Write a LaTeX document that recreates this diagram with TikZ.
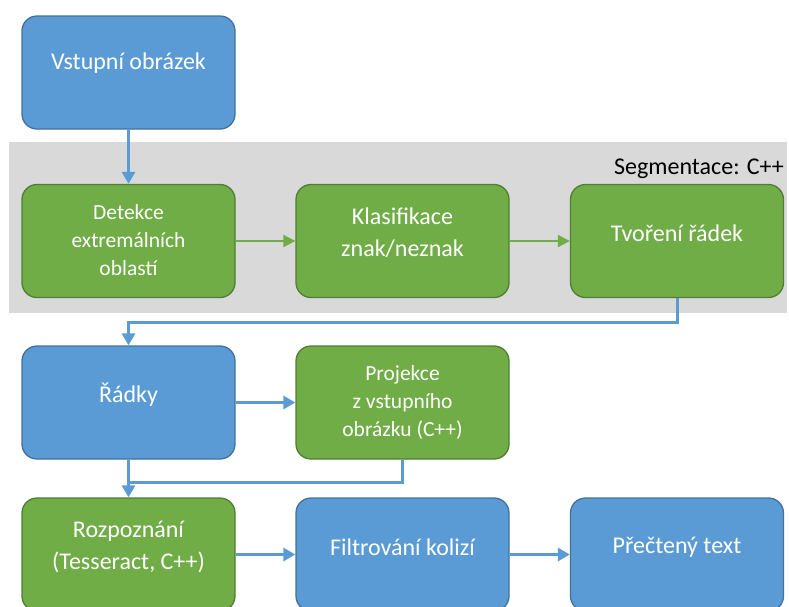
\documentclass[tikz,border=0pt]{standalone}
\usepackage{fontspec}
\setmainfont{Carlito}
\usetikzlibrary{arrows.meta,calc}
\definecolor{bfill}{HTML}{5B9BD5}
\definecolor{bdraw}{HTML}{41719C}
\definecolor{gfill}{HTML}{70AD47}
\definecolor{gdraw}{HTML}{507E32}
\definecolor{graybg}{HTML}{D9D9D9}
\begin{document}
\begin{tikzpicture}[x=1pt,y=-1pt,
  box/.style={rounded corners=15pt, minimum width=213pt, minimum height=113pt, line width=1.3pt, inner sep=0pt},
  bluebox/.style={box, fill=bfill, draw=bdraw},
  greenbox/.style={box, fill=gfill, draw=gdraw},
  txt/.style={text=white, align=center, font=\fontsize{24}{31.5}\selectfont, inner sep=0pt},
  stxt/.style={text=white, align=center, font=\fontsize{21.5}{28.3}\selectfont, inner sep=0pt},
  bl/.style={draw=bfill, line width=3pt},
  blarr/.style={bl, -{Triangle[length=12pt,width=13pt]}},
  grarr/.style={draw=gfill, line width=2pt, -{Triangle[length=12pt,width=12pt]}},
]
\useasboundingbox (0,0) rectangle (789,606);
\clip (0,0) rectangle (789,606);

% segmentation band
\node[fill=graybg, minimum width=778pt, minimum height=171pt, inner sep=0pt] (seg) at (398,227.5) {};
\node[anchor=base east, font=\fontsize{24}{28}\selectfont, inner sep=0pt] (segl) at (784,174) {Segmentace: C++};

% boxes
\node[bluebox]  (inp) at (128.5,72.5) {};
\node[greenbox] (det) at (128.5,241) {};
\node[greenbox] (kla) at (402.5,241) {};
\node[greenbox] (tvo) at (677,241) {};
\node[bluebox]  (rad) at (128.5,402.5) {};
\node[greenbox] (pro) at (402.5,402.5) {};
\node[greenbox] (roz) at (128.5,554.5) {};
\node[bluebox]  (fil) at (402.5,554.5) {};
\node[bluebox]  (pre) at (677,554.5) {};

% texts
\node[txt]  (tinp) at ([yshift=9pt]inp.center) {Vstupní obrázek};
\node[stxt] (tdet) at ([yshift=1pt]det.center) {Detekce\\extremálních\\oblastí};
\node[txt]  (tkla) at ([yshift=8.5pt]kla.center) {Klasifikace\\znak/neznak};
\node[txt]  (ttvo) at ([yshift=8pt]tvo.center) {Tvoření řádek};
\node[txt]  (trad) at ([yshift=7.5pt]rad.center) {Řádky};
\node[stxt] (tpro) at ([yshift=0pt]pro.center) {Projekce\\z vstupního\\obrázku (C++)};
\node[txt]  (troz) at ([yshift=7.5pt]roz.center) {Rozpoznání\\(Tesseract, C++)};
\node[txt]  (tfil) at ([yshift=7.5pt]fil.center) {Filtrování kolizí};
\node[txt]  (tpre) at ([yshift=7.5pt]pre.center) {Přečtený text};

% connectors
\draw[blarr] (inp.south) -- (det.north);
\draw[grarr] (det.east) -- (kla.west);
\draw[grarr] (kla.east) -- (tvo.west);
\coordinate (t1) at ([yshift=-24pt]tvo.south);
\draw[blarr, rounded corners=0pt] (tvo.south) -- (t1) -| (rad.north);
\draw[blarr] (rad.east) -- (pro.west);
\coordinate (j) at ([yshift=-23pt]rad.south);
\draw[bl] (pro.south) |- (j);
\draw[blarr] (rad.south) -- (roz.north);
\draw[blarr] (roz.east) -- (fil.west);
\draw[blarr] (fil.east) -- (pre.west);
\end{tikzpicture}
\end{document}
